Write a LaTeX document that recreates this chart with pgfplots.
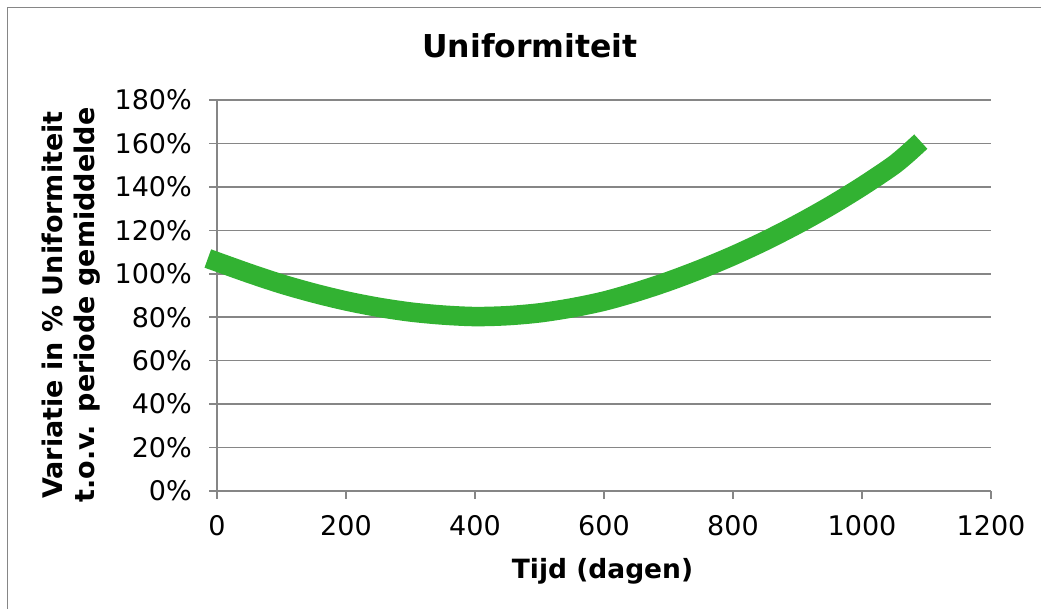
\documentclass[border=0pt]{standalone}
\usepackage{pgfplots}
\pgfplotsset{compat=1.18}
\usepackage{fontspec}
\setmainfont{DejaVu Sans}

\definecolor{curvegreen}{RGB}{50,178,50}
\definecolor{gridgray}{RGB}{134,134,134}

\begin{document}
\begin{tikzpicture}[x=1bp,y=1bp]
\useasboundingbox (0,0) rectangle (1041,609);
% chart area frame
\draw[gridgray, line width=1.5bp] (7.5,0) -- (7.5,601.5) -- (1045,601.5);
\begin{axis}[
  at={(217bp,118bp)}, anchor=south west,
  scale only axis, width=774bp, height=391bp,
  xmin=0, xmax=1200, ymin=0, ymax=180,
  xtick={0,200,...,1200}, ytick={0,20,...,180},
  /pgf/number format/assume math mode=true,
  /pgf/number format/1000 sep={},
  yticklabel={\pgfmathprintnumber{\tick}\%},
  axis x line*=bottom, axis y line*=left,
  ymajorgrids,
  grid style={gridgray, line width=1.5bp},
  axis line style={gridgray, line width=1.5bp},
  major tick style={gridgray, line width=1.5bp},
  tick align=outside, major tick length=8bp,
  ticklabel style={font=\fontsize{27bp}{31bp}\selectfont, text=black, inner sep=0pt},
  xticklabel style={anchor=base, yshift=-37bp},
  yticklabel style={anchor=base east, xshift=-17bp, yshift=-9.8bp},
  clip=false,
]
\addplot[curvegreen, line width=19.5bp, line cap=rect, smooth] coordinates {
  (0,105.5) (50,100.2) (100,95.3) (150,91.1) (200,87.5) (250,84.6)
  (300,82.4) (350,81.0) (400,80.3) (450,80.7) (500,82.0) (550,84.3)
  (600,87.4) (650,91.6) (700,96.5) (750,102.1) (800,108.3) (850,115.2)
  (900,122.8) (950,131.1) (1000,140.2) (1050,150.2) (1080,157.8)
};
\end{axis}
% title and axis titles
\node[anchor=base, font=\fontsize{31.5bp}{36bp}\selectfont\bfseries] at (530,551.3) {Uniformiteit};
\node[anchor=base, font=\fontsize{26.5bp}{30bp}\selectfont\bfseries] at (602.5,30) {Tijd (dagen)};
\node[rotate=90, align=center, font=\fontsize{27bp}{32bp}\selectfont\bfseries] at (71,304)
  {Variatie in \% Uniformiteit\\t.o.v. periode gemiddelde};
\end{tikzpicture}
\end{document}
